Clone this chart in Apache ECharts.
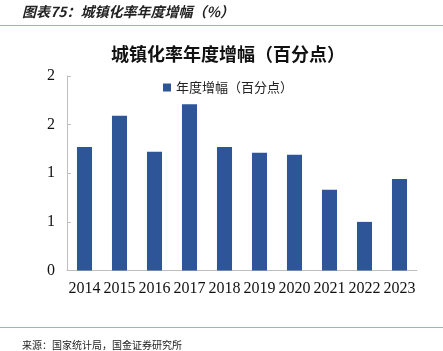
<!DOCTYPE html>
<html>
<head>
    <meta charset="utf-8">
    <title>城镇化率年度增幅</title>
    <script src="https://cdn.jsdelivr.net/npm/echarts@6/dist/echarts.min.js"></script>
    <style>
        body { margin: 0; background: #fff; }
    </style>
</head>
<body>
    <div id="main" style="width: 443px;height:351px;"></div>
    <script type="text/javascript">
        // 数据
        var years = ['2014', '2015', '2016', '2017', '2018', '2019', '2020', '2021', '2022', '2023'];
        var growth = [1.27, 1.59, 1.22, 1.71, 1.27, 1.21, 1.19, 0.83, 0.50, 0.94];
        var seriesName = '年度增幅（百分点）';

        var serif = '"Liberation Serif", "Noto Sans CJK SC", serif';
        var cjk = '"Noto Sans CJK SC", sans-serif';

        var myChart = echarts.init(document.getElementById('main'));

        var option = {
            animation: false,
            backgroundColor: '#fff',
            title: {
                text: '城镇化率年度增幅（百分点）',
                left: 106,
                top: 40,
                textStyle: { fontFamily: cjk, fontSize: 18, fontWeight: 'bold', color: '#111' }
            },
            legend: {
                data: [seriesName],
                left: 158,
                top: 76,
                icon: 'rect',
                itemWidth: 8,
                itemHeight: 8,
                itemGap: 4,
                textStyle: { fontFamily: cjk, fontSize: 13, color: '#222' }
            },
            grid: { left: 67, right: 26, top: 76, bottom: 80.5 },
            xAxis: {
                type: 'category',
                data: years,
                axisLine: { lineStyle: { color: '#bfbfbf' } },
                axisTick: { inside: true, length: 4, lineStyle: { color: '#bfbfbf' } },
                axisLabel: { interval: 0, fontFamily: serif, fontSize: 16, color: '#111', margin: 10 }
            },
            yAxis: {
                type: 'value',
                min: 0,
                max: 2,
                interval: 0.5,
                splitLine: { show: false },
                axisLine: { show: true, lineStyle: { color: '#bfbfbf' } },
                axisTick: { show: true, inside: true, length: 4, lineStyle: { color: '#bfbfbf' } },
                axisLabel: {
                    fontFamily: serif, fontSize: 16, color: '#111', margin: 12,
                    formatter: function (v) { return String(Math.round(v)); }
                }
            },
            series: [{
                name: seriesName,
                type: 'bar',
                data: growth,
                barWidth: '43%',
                itemStyle: { color: '#2e5597' }
            }],
            graphic: [
                {
                    type: 'text', left: 22, top: 5,
                    style: { text: '图表75：城镇化率年度增幅（%）', fontFamily: cjk, fontSize: 14, fontStyle: 'italic', fontWeight: 'bold', fill: '#222' }
                },
                {
                    type: 'rect', shape: { x: 0, y: 25, width: 443, height: 1 },
                    style: { fill: '#9db3c8' }
                },
                {
                    type: 'rect', shape: { x: 0, y: 327, width: 443, height: 1 },
                    style: { fill: '#9db3c8' }
                },
                {
                    type: 'text', left: 22, top: 340,
                    style: { text: '来源：国家统计局，国金证券研究所', fontFamily: cjk, fontSize: 10, fill: '#222' }
                }
            ]
        };

        myChart.setOption(option);
    </script>
</body>
</html>
